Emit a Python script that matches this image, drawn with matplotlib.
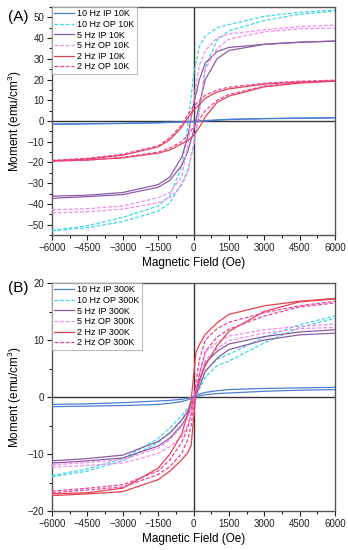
import matplotlib
matplotlib.use("Agg")
import matplotlib.pyplot as plt
from matplotlib.ticker import MultipleLocator

# ---------------- data ----------------
H_10K = [-6000, -4500, -3000, -1500, -1000, -500, -250, 0, 250, 500, 1000, 1500, 3000, 4500, 6000]
H_300K = [-6000, -4500, -3000, -1500, -1000, -500, -250, -100, 0, 100, 250, 500, 1000, 1500, 3000, 4500, 6000]

labels_10K = ["10 Hz IP 10K", "10 Hz OP 10K", "5 Hz IP 10K", "5 Hz OP 10K", "2 Hz IP 10K", "2 Hz OP 10K"]
labels_300K = ["10 Hz IP 300K", "10 Hz OP 300K", "5 Hz IP 300K", "5 Hz OP 300K", "2 Hz IP 300K", "2 Hz OP 300K"]

# 10 K : (descending branch, ascending branch) on H_10K
ip10_10K_up = [-1.5, -1.3, -1.1, -0.8, -0.6, -0.4, -0.3, -0.2, 0.0, 0.2, 0.5, 0.8, 1.2, 1.4, 1.6]
ip10_10K_dn = [-1.6, -1.4, -1.2, -0.9, -0.7, -0.6, -0.5, -0.4, -0.2, 0.0, 0.4, 0.7, 1.1, 1.3, 1.5]
op10_10K_up = [-52.8, -50.5, -46.5, -41.0, -36.0, -22.0, -3.0, 22.0, 36.0, 41.0, 45.0, 46.5, 50.5, 52.5, 53.5]
op10_10K_dn = [-53.0, -51.5, -48.5, -43.5, -39.5, -30.0, -24.0, -12.0, 5.0, 26.0, 39.0, 43.5, 48.5, 51.5, 53.0]
ip5_10K_up = [-36.3, -35.8, -34.5, -30.7, -27.0, -17.4, -8.0, 8.0, 20.0, 28.0, 33.5, 35.5, 37.0, 38.0, 38.6]
ip5_10K_dn = [-37.3, -36.5, -35.5, -32.0, -28.6, -21.4, -15.0, -5.0, 8.0, 20.0, 30.0, 34.0, 37.0, 38.0, 38.5]
op5_10K_up = [-42.8, -42.3, -41.0, -37.0, -34.5, -27.0, -12.0, 10.0, 27.0, 34.0, 40.0, 42.0, 44.0, 45.5, 46.3]
op5_10K_dn = [-44.4, -43.8, -42.5, -39.5, -37.0, -31.0, -25.0, -12.0, 5.0, 25.0, 35.0, 39.5, 43.0, 44.5, 44.8]
ip2_10K_up = [-19.2, -18.3, -16.5, -12.5, -9.0, -3.0, 1.5, 5.0, 8.0, 11.0, 14.0, 15.5, 17.8, 18.8, 19.3]
ip2_10K_dn = [-19.3, -18.8, -17.8, -15.5, -14.0, -11.0, -9.5, -7.0, -3.0, 2.0, 9.0, 12.0, 16.5, 18.3, 19.2]
op2_10K_up = [-19.0, -18.0, -16.0, -12.0, -8.0, -2.0, 3.0, 7.0, 10.0, 12.5, 15.0, 16.3, 18.2, 19.2, 19.7]
op2_10K_dn = [-19.4, -18.9, -17.5, -15.0, -13.0, -10.0, -7.0, -3.0, 1.0, 5.0, 10.0, 12.8, 16.8, 18.5, 19.5]

# 300 K : (descending branch, ascending branch) on H_300K
ip10_300K_up = [-1.3, -1.2, -1.0, -0.7, -0.6, -0.4, -0.2, -0.1, 0.1, 0.3, 0.5, 0.8, 1.1, 1.3, 1.5, 1.6, 1.7]
ip10_300K_dn = [-1.7, -1.6, -1.5, -1.3, -1.1, -0.8, -0.5, -0.3, -0.1, 0.1, 0.2, 0.4, 0.6, 0.7, 1.0, 1.2, 1.3]
op10_300K_up = [-13.8, -12.6, -10.8, -7.3, -5.4, -3.3, -2.0, -1.0, -0.2, 0.8, 2.3, 4.6, 6.6, 7.5, 10.5, 12.7, 14.2]
op10_300K_dn = [-14.0, -13.0, -11.2, -8.0, -6.2, -4.2, -2.7, -1.5, -0.6, 0.2, 1.4, 3.5, 5.5, 6.3, 9.5, 12.2, 13.8]
ip5_300K_up = [-11.2, -10.8, -10.2, -7.8, -6.3, -4.0, -2.5, -1.2, -0.2, 1.0, 2.8, 6.0, 8.0, 9.3, 10.6, 11.4, 11.8]
ip5_300K_dn = [-11.6, -11.2, -10.7, -8.6, -7.2, -4.9, -3.3, -2.0, -0.8, 0.3, 1.8, 4.5, 6.8, 8.3, 10.0, 10.9, 11.2]
op5_300K_up = [-11.9, -11.5, -11.0, -9.0, -7.5, -5.2, -3.5, -2.0, -0.5, 1.5, 4.0, 7.8, 9.6, 10.7, 11.8, 12.4, 12.8]
op5_300K_dn = [-12.3, -12.0, -11.6, -9.9, -8.7, -7.0, -5.0, -3.0, -1.5, 0.2, 2.5, 6.4, 8.5, 9.9, 11.2, 12.0, 12.2]
ip2_300K_up = [-17.0, -16.8, -16.0, -12.5, -10.0, -6.5, -3.0, -0.5, 3.5, 7.8, 9.2, 11.0, 13.0, 14.5, 16.0, 16.8, 17.3]
ip2_300K_dn = [-17.3, -17.0, -16.6, -14.5, -13.0, -11.0, -9.8, -8.5, -4.0, 0.5, 3.0, 5.5, 9.0, 11.5, 15.0, 16.7, 17.2]
op2_300K_up = [-16.5, -16.0, -15.4, -13.0, -11.0, -8.0, -5.5, -3.0, -0.5, 2.5, 6.5, 10.0, 12.0, 13.1, 14.8, 16.0, 16.8]
op2_300K_dn = [-16.8, -16.3, -15.8, -13.6, -12.2, -9.9, -7.5, -5.0, -2.0, 0.5, 4.0, 8.0, 10.5, 11.9, 14.2, 15.8, 16.5]

x_ticks = [-6000, -4500, -3000, -1500, 0, 1500, 3000, 4500, 6000]
y_ticks_10K = [-50, -40, -30, -20, -10, 0, 10, 20, 30, 40, 50]
y_ticks_300K = [-20, -10, 0, 10, 20]

# ---------------- styles ----------------
colors = ["#4a7fd4", "#3fd8e6", "#8e5ba8", "#f28cf0", "#e8404f", "#f0409a"]
styles = ["-", "--", "-", "--", "-", "--"]

plt.rcParams["font.family"] = ["Liberation Sans", "DejaVu Sans"]
plt.rcParams["mathtext.fontset"] = "custom"
plt.rcParams["mathtext.rm"] = "Liberation Sans"
fig = plt.figure(figsize=(3.48, 5.5), dpi=100)
axA = fig.add_axes([52 / 348, 1 - 235 / 550, 283 / 348, 228 / 550])
axB = fig.add_axes([52 / 348, 1 - 511 / 550, 283 / 348, 228 / 550])

sets = [
    (axA, H_10K, labels_10K,
     [(ip10_10K_up, ip10_10K_dn), (op10_10K_up, op10_10K_dn), (ip5_10K_up, ip5_10K_dn),
      (op5_10K_up, op5_10K_dn), (ip2_10K_up, ip2_10K_dn), (op2_10K_up, op2_10K_dn)],
     (-55, 55), y_ticks_10K, "(A)", 17),
    (axB, H_300K, labels_300K,
     [(ip10_300K_up, ip10_300K_dn), (op10_300K_up, op10_300K_dn), (ip5_300K_up, ip5_300K_dn),
      (op5_300K_up, op5_300K_dn), (ip2_300K_up, ip2_300K_dn), (op2_300K_up, op2_300K_dn)],
     (-20, 20), y_ticks_300K, "(B)", 288),
]

for ax, H, labs, curves, ylim, yticks, tag, tag_y in sets:
    ax.axhline(0, color="#333333", lw=1.0, zorder=1)
    ax.axvline(0, color="#333333", lw=1.0, zorder=1)
    for (up, dn), c, ls, lab in zip(curves, colors, styles, labs):
        kw = dict(color=c, lw=0.9, zorder=3)
        if ls == "--":
            kw.update(ls="--", dashes=(3, 1.5))
        ax.plot(H, up, label=lab, **kw)
        ax.plot(H, dn, **kw)
    ax.set_xlim(-6000, 6000)
    ax.set_ylim(*ylim)
    ax.set_xticks(x_ticks)
    ax.set_xticklabels([str(t).replace("-", "\u2212") for t in x_ticks])
    ax.set_yticks(yticks)
    ax.set_yticklabels([str(t).replace("-", "\u2212") for t in yticks])
    ax.xaxis.set_minor_locator(MultipleLocator(750))
    ax.yaxis.set_minor_locator(MultipleLocator(5))
    ax.tick_params(which="both", direction="out", labelsize=7, colors="#222222", top=False, right=False)
    ax.tick_params(which="major", length=3.5, width=0.8, pad=2)
    ax.tick_params(which="minor", length=2, width=0.8)
    for s in ax.spines.values():
        s.set_color("#555555")
        s.set_linewidth(1.0)
    ax.set_xlabel("Magnetic Field (Oe)", fontsize=8.5, labelpad=3)
    ax.set_ylabel("Moment (emu/cm$^3$)", fontsize=8.5, labelpad=3)
    leg = ax.legend(loc="upper left", fontsize=6.5, frameon=True, fancybox=False, borderpad=0.25,
                    labelspacing=0.18, handlelength=2.2, handletextpad=0.35, borderaxespad=0.0)
    leg.get_frame().set_edgecolor("#aaaaaa")
    leg.get_frame().set_linewidth(0.8)
    fig.text(8 / 348, 1 - tag_y / 550, tag, fontsize=11, va="center", ha="left")

fig.savefig("out.png", dpi=100)
